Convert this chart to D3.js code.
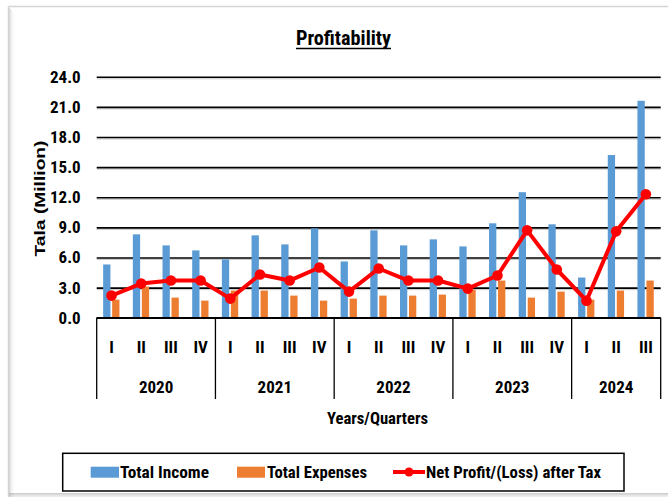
<!DOCTYPE html>
<html>
<head>
<meta charset="utf-8">
<script src="https://cdn.jsdelivr.net/npm/d3@7"></script>
<style>
  body { margin: 0; background: #fff; }
  text { font-family: "Liberation Sans Narrow", "Arial Narrow", "Roboto Condensed", "DejaVu Sans Condensed", sans-serif; font-weight: bold; fill: #000; }
</style>
</head>
<body>
<script>
// quarter labels along the axis, grouped by year
const years = ["2020", "2021", "2022", "2023", "2024"];
const quartersPerYear = [4, 4, 4, 4, 3];
const quarterNames = ["I", "II", "III", "IV"];

// values in Tala (Million)
const totalIncome   = [5.3, 8.3, 7.2, 6.7, 5.8, 8.2, 7.3, 8.9, 5.6, 8.7, 7.2, 7.8, 7.1, 9.4, 12.5, 9.3, 4.0, 16.2, 21.6];
const totalExpenses = [1.8, 3.1, 2.0, 1.7, 2.7, 2.7, 2.2, 1.7, 1.9, 2.2, 2.2, 2.3, 2.8, 3.7, 2.0, 2.6, 1.8, 2.7, 3.7];
const netProfit     = [2.2, 3.4, 3.7, 3.7, 1.9, 4.3, 3.7, 5.0, 2.6, 4.9, 3.7, 3.7, 2.9, 4.2, 8.7, 4.8, 1.7, 8.6, 12.3];

const yTicks = [0, 3, 6, 9, 12, 15, 18, 21, 24];

const W = 668, H = 497;
const plotLeft = 96.7, plotRight = 660.7, plotTop = 76.7, plotBottom = 317.7;

// build flat list of periods
const periods = [];
years.forEach((yr, j) => {
    for (let q = 0; q < quartersPerYear[j]; q++) periods.push({ year: yr, q: quarterNames[q] });
});

const svg = d3.select("body").append("svg")
    .attr("width", W)
    .attr("height", H);

// outer frame with soft shadow on left / bottom
[0.3, 0.2, 0.12, 0.07, 0.03].forEach((o, k) => {
    svg.append("line").attr("x1", 9.5 + k).attr("x2", 9.5 + k).attr("y1", 8 + k).attr("y2", H)
        .attr("stroke", "#888").attr("stroke-opacity", o);
    svg.append("line").attr("x1", 9).attr("x2", W).attr("y1", 493.5 + k).attr("y2", 493.5 + k)
        .attr("stroke", "#888").attr("stroke-opacity", o + 0.1);
});
svg.append("line").attr("x1", 8.5).attr("x2", W).attr("y1", 6.5).attr("y2", 6.5)
    .attr("stroke", "#d4d4d4").attr("stroke-width", 1.5);
svg.append("line").attr("x1", 8.5).attr("x2", 8.5).attr("y1", 6.5).attr("y2", H)
    .attr("stroke", "#d4d4d4").attr("stroke-width", 1.5);

const x = d3.scaleBand()
    .domain(d3.range(periods.length))
    .range([plotLeft, plotRight]);

const xs = d3.scaleBand()
    .domain(["income", "expenses"])
    .range([x.bandwidth() / 2 - 8.4, x.bandwidth() / 2 + 7.9])
    .paddingInner(0.19);

const y = d3.scaleLinear()
    .domain([0, 24])
    .range([plotBottom, plotTop]);

// gridlines + tick labels
const yAxis = svg.append("g")
    .attr("transform", `translate(${plotLeft},0)`)
    .call(d3.axisLeft(y).tickValues(yTicks).tickFormat(d3.format(".1f"))
        .tickSize(-(plotRight - plotLeft)).tickPadding(16));
yAxis.select(".domain").remove();
yAxis.selectAll(".tick line")
    .attr("stroke", "#000")
    .attr("stroke-width", 1.6);
yAxis.selectAll(".tick").filter(d => d > 0).insert("line", ":first-child")
    .attr("x2", plotRight - plotLeft)
    .attr("y1", 1.6).attr("y2", 1.6)
    .attr("stroke", "#c8c8c8")
    .attr("stroke-width", 1);
yAxis.selectAll(".tick text")
    .style("font-size", "17px")
    .attr("fill", "#000");

// bars
const groups = svg.append("g")
    .selectAll("g")
    .data(periods)
    .join("g")
    .attr("transform", (d, i) => `translate(${x(i)},0)`);

groups.append("rect")
    .attr("x", xs("income"))
    .attr("width", xs.bandwidth())
    .attr("y", (d, i) => y(totalIncome[i]))
    .attr("height", (d, i) => y(0) - y(totalIncome[i]))
    .attr("fill", "#5B9BD5");

groups.append("rect")
    .attr("x", xs("expenses"))
    .attr("width", xs.bandwidth())
    .attr("y", (d, i) => y(totalExpenses[i]))
    .attr("height", (d, i) => y(0) - y(totalExpenses[i]))
    .attr("fill", "#ED7D31");

// net profit line
const cx = i => x(i) + x.bandwidth() / 2;
const line = d3.line()
    .x((d, i) => cx(i))
    .y(d => y(d));

svg.append("path")
    .datum(netProfit)
    .attr("d", line)
    .attr("fill", "none")
    .attr("stroke", "#FF0000")
    .attr("stroke-width", 4)
    .attr("stroke-linejoin", "round");

svg.append("g")
    .selectAll("circle")
    .data(netProfit)
    .join("circle")
    .attr("cx", (d, i) => cx(i))
    .attr("cy", d => y(d))
    .attr("r", 5.3)
    .attr("fill", "#FF0000");

// category axis (quarters / years)
svg.append("line")
    .attr("x1", plotLeft).attr("x2", plotRight)
    .attr("y1", plotBottom).attr("y2", plotBottom)
    .attr("stroke", "#000").attr("stroke-width", 1.6);

let start = 0;
const yearBounds = years.map((yr, j) => {
    const b = { year: yr, s: start, e: start + quartersPerYear[j] };
    start += quartersPerYear[j];
    return b;
});

const xAxis = svg.append("g");
xAxis.selectAll("line.sep")
    .data([0].concat(yearBounds.map(b => b.e)))
    .join("line")
    .attr("class", "sep")
    .attr("x1", d => d < periods.length ? x(d) : plotRight)
    .attr("x2", d => d < periods.length ? x(d) : plotRight)
    .attr("y1", plotBottom).attr("y2", 399)
    .attr("stroke", "#000").attr("stroke-width", 1.3);

xAxis.selectAll("text.q")
    .data(periods)
    .join("text")
    .attr("class", "q")
    .attr("x", (d, i) => cx(i))
    .attr("y", 352.5)
    .attr("text-anchor", "middle")
    .style("font-size", "17px")
    .text(d => d.q);

xAxis.selectAll("text.yr")
    .data(yearBounds)
    .join("text")
    .attr("class", "yr")
    .attr("x", d => (x(d.s) + (d.e < periods.length ? x(d.e) : plotRight)) / 2)
    .attr("y", 393)
    .attr("text-anchor", "middle")
    .style("font-size", "17px")
    .text(d => d.year);

// titles
svg.append("text")
    .attr("x", 296).attr("y", 44.5)
    .attr("textLength", 95).attr("lengthAdjust", "spacingAndGlyphs")
    .style("font-size", "20px")
    .text("Profitability");
svg.append("line")
    .attr("x1", 296).attr("x2", 391)
    .attr("y1", 48.5).attr("y2", 48.5)
    .attr("stroke", "#000").attr("stroke-width", 1.5);

svg.append("text")
    .attr("x", 327).attr("y", 424)
    .attr("textLength", 101).attr("lengthAdjust", "spacingAndGlyphs")
    .style("font-size", "16px")
    .text("Years/Quarters");

svg.append("text")
    .attr("transform", "translate(44.5,198.5) rotate(-90)")
    .attr("text-anchor", "middle")
    .attr("textLength", 116).attr("lengthAdjust", "spacingAndGlyphs")
    .style("font-family", "'Liberation Sans', Arial, sans-serif")
    .style("font-size", "15px")
    .text("Tala (Million)");

// legend
const legend = svg.append("g");
legend.append("rect")
    .attr("x", 62.7).attr("y", 453.3)
    .attr("width", 561.3).attr("height", 37.7)
    .attr("fill", "#fff").attr("stroke", "#000").attr("stroke-width", 1.5);

legend.append("rect").attr("x", 90.7).attr("y", 466.7).attr("width", 28.3).attr("height", 11).attr("fill", "#5B9BD5");
legend.append("text").attr("x", 120).attr("y", 478)
    .attr("textLength", 89).attr("lengthAdjust", "spacingAndGlyphs")
    .style("font-size", "16px").text("Total Income");

legend.append("rect").attr("x", 237).attr("y", 466.7).attr("width", 28).attr("height", 11).attr("fill", "#ED7D31");
legend.append("text").attr("x", 267).attr("y", 478)
    .attr("textLength", 100).attr("lengthAdjust", "spacingAndGlyphs")
    .style("font-size", "16px").text("Total Expenses");

legend.append("line").attr("x1", 393).attr("x2", 425).attr("y1", 472).attr("y2", 472)
    .attr("stroke", "#FF0000").attr("stroke-width", 4);
legend.append("circle").attr("cx", 409).attr("cy", 472).attr("r", 4.5).attr("fill", "#FF0000");
legend.append("text").attr("x", 426).attr("y", 478)
    .attr("textLength", 175).attr("lengthAdjust", "spacingAndGlyphs")
    .style("font-size", "16px").text("Net Profit/(Loss) after Tax");
</script>
</body>
</html>
